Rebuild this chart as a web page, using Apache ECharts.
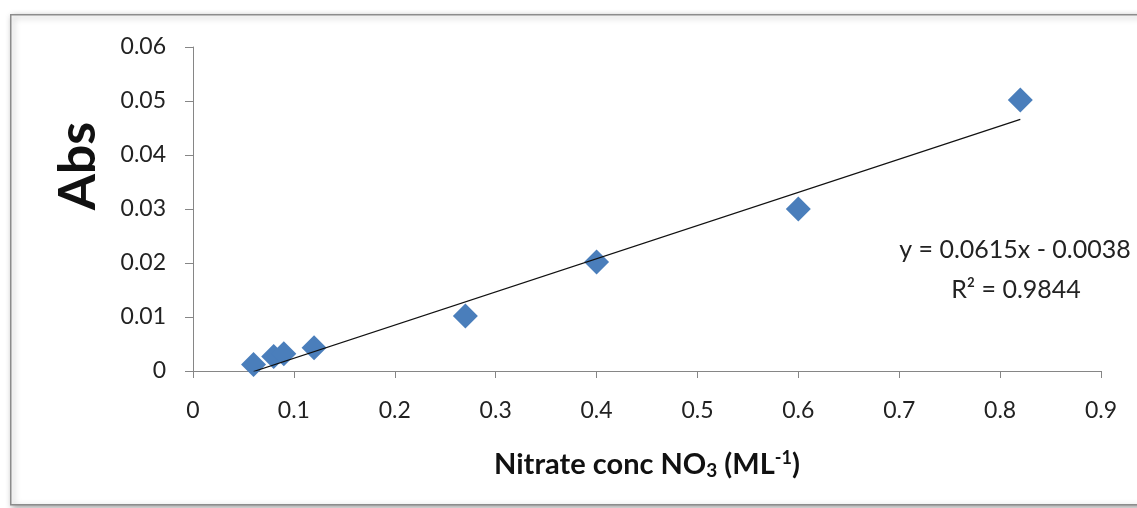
<!DOCTYPE html>
<html><head><meta charset="utf-8">
<script src="https://cdn.jsdelivr.net/npm/echarts@6/dist/echarts.min.js"></script>
<style>html,body{margin:0;padding:0;background:#fff}#c{width:1137px;height:508px}</style>
</head><body><div id="c"></div>
<script>
const xValues = [0.06, 0.08, 0.09, 0.12, 0.27, 0.40, 0.60, 0.82];
const absValues = [0.0012, 0.0027, 0.0032, 0.0043, 0.0102, 0.0202, 0.0300, 0.0502];
const trendX = [0.06, 0.82];
const trendY = [-0.0001, 0.0466];
const equationText = 'y = 0.0615x - 0.0038';
const r2Text = '0.9844';

const chart = echarts.init(document.getElementById('c'));
const font = 'Lato, "Open Sans", sans-serif';
chart.setOption({
  animation: false,
  backgroundColor: '#fff',
  graphic: [
    {type: 'rect', left: 10, top: 14, shape: {width: 1160, height: 490},
     style: {fill: '#fff', stroke: '#8c8c8c', lineWidth: 1.5, shadowBlur: 6, shadowColor: 'rgba(0,0,0,0.35)', shadowOffsetX: 2, shadowOffsetY: 2}, z: -10},
    {type: 'text', x: 1015, y: 250, style: {text: equationText, font: '25px ' + font, fill: '#222', align: 'center', verticalAlign: 'middle'}},
    {type: 'text', x: 1016, y: 290, style: {text: 'R² = ' + r2Text, font: '25px ' + font, fill: '#222', align: 'center', verticalAlign: 'middle'}},
    {type: 'text', x: 78, y: 166, rotation: Math.PI / 2,
     style: {text: 'Abs', font: 'bold 52px ' + font, fill: '#111', align: 'center', verticalAlign: 'middle'}}
  ],
  grid: {left: 193, right: 36, top: 47, bottom: 137},
  xAxis: {
    type: 'value', min: 0, max: 0.9, interval: 0.1,
    name: '{b|Nitrate conc NO}{sub|3}{b| (ML}{sup|-1}{b|)}',
    nameLocation: 'middle', nameGap: 78,
    nameTextStyle: {rich: {
      b: {fontFamily: font, fontSize: 29, fontWeight: 'bold', color: '#111'},
      sub: {fontFamily: font, fontSize: 19, fontWeight: 'bold', color: '#111', verticalAlign: 'bottom', padding: [12, 0, 0, 0]},
      sup: {fontFamily: font, fontSize: 18, fontWeight: 'bold', color: '#111', verticalAlign: 'top', padding: [0, 0, 12, 0]}
    }},
    axisLine: {lineStyle: {color: '#868686', width: 1}},
    axisTick: {lineStyle: {color: '#868686'}, length: 7},
    axisLabel: {fontFamily: font, fontSize: 23, color: '#222', margin: 28,
      formatter: v => String(Math.round(v * 10) / 10)},
    splitLine: {show: false}
  },
  yAxis: {
    type: 'value', min: 0, max: 0.06, interval: 0.01,
    axisLine: {show: true, lineStyle: {color: '#868686', width: 1}},
    axisTick: {show: true, lineStyle: {color: '#868686'}, length: 8},
    axisLabel: {fontFamily: font, fontSize: 23, color: '#222', margin: 27,
      formatter: v => v === 0 ? '0' : (Math.round(v * 100) / 100).toFixed(2)},
    splitLine: {show: false}
  },
  series: [
    {type: 'line', data: trendX.map((x, i) => [x, trendY[i]]), symbol: 'none',
     lineStyle: {color: '#111', width: 1.2}, z: 3},
    {type: 'scatter', data: xValues.map((x, i) => [x, absValues[i]]), symbol: 'diamond', symbolSize: 25,
     itemStyle: {color: '#4a7ebb', opacity: 1}, z: 2}
  ]
});
</script></body></html>
